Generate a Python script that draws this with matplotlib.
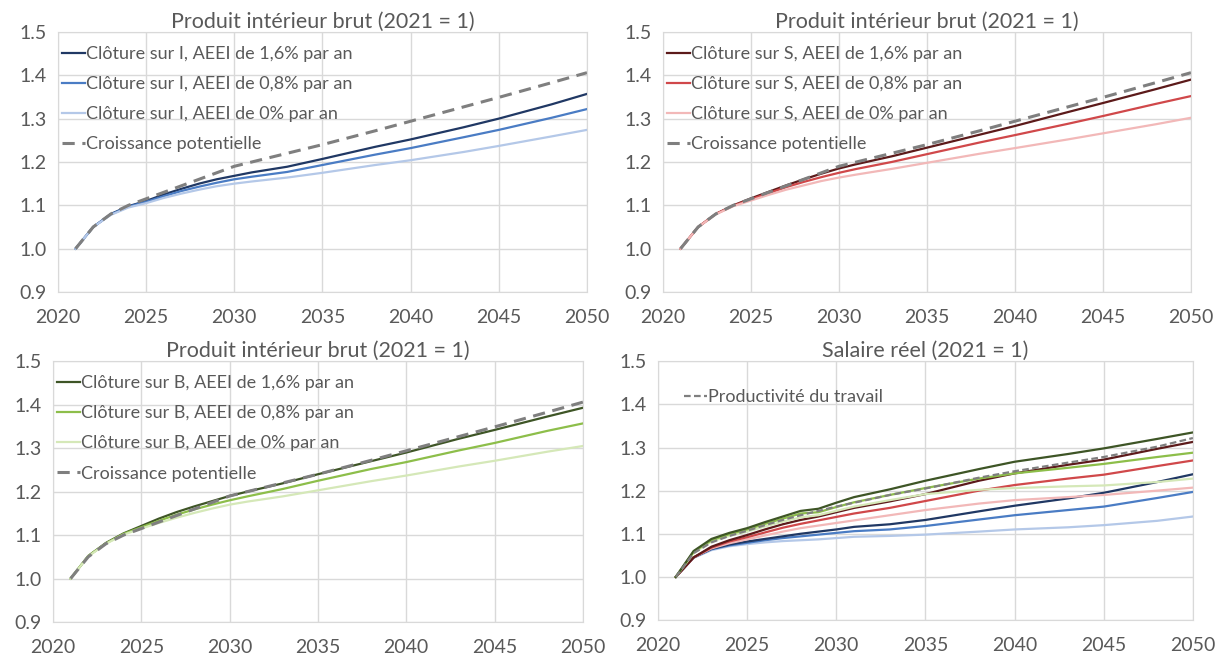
import matplotlib
matplotlib.use("Agg")
import matplotlib.pyplot as plt
from matplotlib.ticker import FormatStrFormatter

plt.rcParams['font.family'] = ['Lato', 'DejaVu Sans']

YEARS = [2021, 2022, 2023, 2024, 2025, 2026, 2027, 2028, 2029, 2030,
         2031, 2033, 2035, 2038, 2040, 2043, 2045, 2048, 2050]

# PIB, croissance potentielle (meme courbe dans les 3 panneaux)
POTENTIEL = [1.000, 1.050, 1.080, 1.100, 1.115, 1.130, 1.145, 1.160, 1.175, 1.190,
             1.200, 1.220, 1.240, 1.272, 1.294, 1.327, 1.349, 1.383, 1.406]

# PIB, cloture sur I
PIB_I_16 = [1.000, 1.050, 1.080, 1.098, 1.110, 1.125, 1.138, 1.150, 1.160, 1.168,
            1.176, 1.189, 1.207, 1.235, 1.252, 1.280, 1.300, 1.333, 1.357]
PIB_I_08 = [1.000, 1.050, 1.079, 1.097, 1.108, 1.121, 1.133, 1.143, 1.152, 1.160,
            1.166, 1.177, 1.193, 1.217, 1.232, 1.257, 1.274, 1.302, 1.322]
PIB_I_00 = [1.000, 1.050, 1.078, 1.095, 1.105, 1.117, 1.127, 1.136, 1.144, 1.150,
            1.155, 1.164, 1.175, 1.193, 1.204, 1.223, 1.237, 1.259, 1.274]

# PIB, cloture sur S
PIB_S_16 = [1.000, 1.050, 1.080, 1.100, 1.116, 1.131, 1.146, 1.160, 1.173, 1.185,
            1.195, 1.213, 1.233, 1.263, 1.283, 1.315, 1.336, 1.368, 1.390]
PIB_S_08 = [1.000, 1.050, 1.080, 1.099, 1.114, 1.128, 1.142, 1.154, 1.165, 1.175,
            1.184, 1.200, 1.218, 1.245, 1.262, 1.288, 1.306, 1.334, 1.352]
PIB_S_00 = [1.000, 1.050, 1.079, 1.098, 1.111, 1.124, 1.136, 1.146, 1.156, 1.164,
            1.171, 1.184, 1.198, 1.219, 1.232, 1.252, 1.266, 1.287, 1.302]

# PIB, cloture sur B
PIB_B_16 = [1.000, 1.052, 1.082, 1.104, 1.121, 1.138, 1.153, 1.166, 1.178, 1.190,
            1.200, 1.219, 1.240, 1.270, 1.290, 1.322, 1.342, 1.373, 1.393]
PIB_B_08 = [1.000, 1.052, 1.081, 1.103, 1.118, 1.133, 1.147, 1.159, 1.170, 1.180,
            1.189, 1.206, 1.225, 1.252, 1.268, 1.295, 1.312, 1.340, 1.357]
PIB_B_00 = [1.000, 1.051, 1.080, 1.101, 1.115, 1.128, 1.140, 1.151, 1.161, 1.170,
            1.177, 1.189, 1.203, 1.224, 1.237, 1.258, 1.271, 1.292, 1.305]

# Salaire reel
PRODUCTIVITE = [1.000, 1.055, 1.080, 1.095, 1.107, 1.120, 1.132, 1.143, 1.153, 1.163,
                1.172, 1.190, 1.205, 1.230, 1.245, 1.265, 1.278, 1.302, 1.322]
SAL_B_16 = [1.000, 1.060, 1.088, 1.102, 1.113, 1.127, 1.140, 1.153, 1.158, 1.172,
            1.185, 1.203, 1.223, 1.250, 1.267, 1.285, 1.298, 1.320, 1.335]
SAL_S_16 = [1.000, 1.045, 1.070, 1.085, 1.097, 1.110, 1.122, 1.132, 1.140, 1.150,
            1.160, 1.175, 1.192, 1.223, 1.240, 1.260, 1.272, 1.297, 1.313]
SAL_B_08 = [1.000, 1.058, 1.085, 1.099, 1.110, 1.123, 1.135, 1.147, 1.150, 1.162,
            1.173, 1.190, 1.206, 1.228, 1.240, 1.253, 1.262, 1.278, 1.288]
SAL_S_08 = [1.000, 1.045, 1.068, 1.082, 1.092, 1.103, 1.114, 1.123, 1.131, 1.139,
            1.147, 1.160, 1.176, 1.200, 1.213, 1.228, 1.237, 1.257, 1.270]
SAL_B_00 = [1.000, 1.055, 1.082, 1.095, 1.105, 1.117, 1.128, 1.138, 1.143, 1.153,
            1.163, 1.178, 1.192, 1.202, 1.206, 1.210, 1.212, 1.220, 1.228]
SAL_S_00 = [1.000, 1.045, 1.066, 1.078, 1.087, 1.096, 1.105, 1.113, 1.119, 1.125,
            1.131, 1.143, 1.155, 1.170, 1.178, 1.185, 1.190, 1.200, 1.207]
SAL_I_16 = [1.000, 1.045, 1.065, 1.075, 1.082, 1.088, 1.094, 1.100, 1.105, 1.110,
            1.116, 1.122, 1.132, 1.152, 1.165, 1.182, 1.195, 1.220, 1.238]
SAL_I_08 = [1.000, 1.045, 1.064, 1.073, 1.079, 1.085, 1.090, 1.094, 1.098, 1.102,
            1.106, 1.110, 1.118, 1.133, 1.143, 1.155, 1.163, 1.183, 1.197]
SAL_I_00 = [1.000, 1.044, 1.062, 1.071, 1.076, 1.080, 1.083, 1.085, 1.087, 1.090,
            1.093, 1.095, 1.098, 1.105, 1.110, 1.115, 1.120, 1.130, 1.140]

TITLE_PIB = "Produit intérieur brut (2021 = 1)"
TITLE_SAL = "Salaire réel (2021 = 1)"
AEEI = ["1,6%", "0,8%", "0%"]

BLUES = ["#203864", "#4A7CC4", "#B4C8E8"]
REDS = ["#5C1A1A", "#D0484A", "#F2B8B8"]
GREENS = ["#3E5526", "#8DBE4A", "#D5E8B8"]
DASH_GREY = "#7F7F7F"
TXT = "#595959"
GRID = "#D9D9D9"


def style_axes(ax, title):
    ax.set_xlim(2020, 2050)
    ax.set_ylim(0.9, 1.5)
    ax.set_xticks(range(2020, 2051, 5))
    ax.set_yticks([0.9, 1.0, 1.1, 1.2, 1.3, 1.4, 1.5])
    ax.yaxis.set_major_formatter(FormatStrFormatter('%.1f'))
    ax.grid(True, color=GRID, linewidth=1.0)
    ax.set_axisbelow(True)
    for s in ax.spines.values():
        s.set_color(GRID)
    ax.tick_params(length=0, labelsize=14, labelcolor=TXT)
    ax.tick_params(axis='x', pad=12)
    ax.tick_params(axis='y', pad=8)
    ax.set_title(title, fontsize=15.5, color=TXT, pad=2)


fig = plt.figure(figsize=(12.2, 6.6), dpi=100)
ax_tl = fig.add_axes([0.0475, 0.5576, 0.4336, 0.394])
ax_tr = fig.add_axes([0.5434, 0.5576, 0.4328, 0.394])
ax_bl = fig.add_axes([0.0434, 0.0576, 0.4344, 0.395])
ax_br = fig.add_axes([0.5393, 0.0606, 0.4385, 0.392])

panels = [
    (ax_tl, "I", [PIB_I_16, PIB_I_08, PIB_I_00], BLUES),
    (ax_tr, "S", [PIB_S_16, PIB_S_08, PIB_S_00], REDS),
    (ax_bl, "B", [PIB_B_16, PIB_B_08, PIB_B_00], GREENS),
]

for ax, letter, series, cols in panels:
    for vals, c, a in zip(series, cols, AEEI):
        ax.plot(YEARS, vals, color=c, linewidth=1.6,
                label="Clôture sur %s, AEEI de %s par an" % (letter, a))
    ax.plot(YEARS, POTENTIEL, color=DASH_GREY, linewidth=2.2,
            dashes=(4, 2.5), label="Croissance potentielle")
    style_axes(ax, TITLE_PIB)
    leg = ax.legend(loc="upper left", bbox_to_anchor=(0.0, 0.96), frameon=False,
                    fontsize=13, handlelength=1.3, handletextpad=0.05,
                    labelspacing=0.78, borderaxespad=0.1, borderpad=0.1)
    for t in leg.get_texts():
        t.set_color(TXT)

# salaire reel
sal_series = [
    (SAL_I_00, BLUES[2]), (SAL_I_08, BLUES[1]), (SAL_I_16, BLUES[0]),
    (SAL_S_00, REDS[2]), (SAL_S_08, REDS[1]), (SAL_S_16, REDS[0]),
    (SAL_B_00, GREENS[2]), (SAL_B_08, GREENS[1]), (SAL_B_16, GREENS[0]),
]
for vals, c in sal_series:
    ax_br.plot(YEARS, vals, color=c, linewidth=1.6)
ax_br.plot(YEARS, PRODUCTIVITE, color=DASH_GREY, linewidth=1.6,
           dashes=(3, 1.5), label="Productivité du travail")
style_axes(ax_br, TITLE_SAL)
leg = ax_br.legend(loc="upper left", bbox_to_anchor=(0.045, 0.90), frameon=False,
                   fontsize=13, handlelength=1.3, handletextpad=0.05,
                   borderaxespad=0.0, borderpad=0.1)
for t in leg.get_texts():
    t.set_color(TXT)

fig.savefig("out.png", dpi=100)
